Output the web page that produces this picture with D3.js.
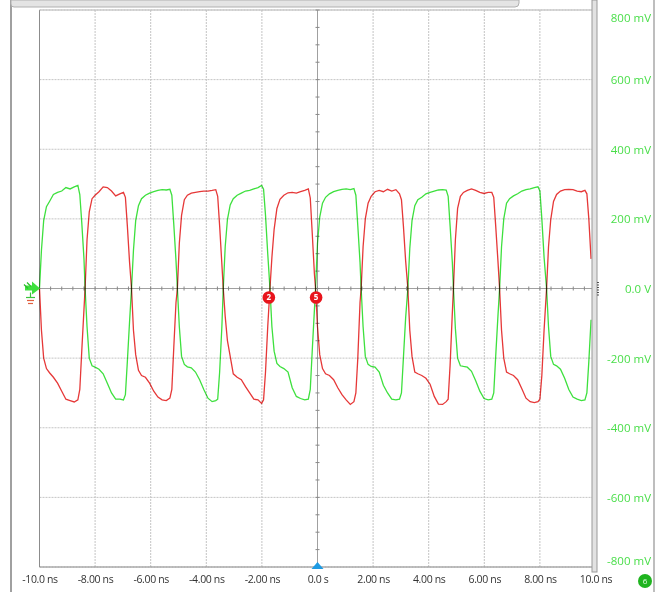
<!DOCTYPE html>
<html><head><meta charset="utf-8">
<script src="https://cdn.jsdelivr.net/npm/d3@7"></script>
<style>body{margin:0;background:#fff} svg{display:block}</style>
</head><body><svg id="c" width="661" height="592"></svg>
<script>
// ---- data ----
const edgeTimes = [-10.0, -8.36, -6.69, -5.04, -3.39, -1.71, -0.07, 1.57, 3.25, 4.89, 6.55, 8.24];
const sampleOffsets = [0, 0.07, 0.15, 0.25, 0.36, 0.5, 0.65, 0.8, 0.95, 1.1, 1.25, 1.38, 1.45, 1.52, 1.6];
const greenSegments = [
  [0, 110, 195, 235, 250, 270, 276, 280, 290, 286, 292, 296, 270, 190, 85],
  [0, -110, -200, -222, -226, -232, -245, -272, -300, -318, -318, -320, -305, -210, -95],
  [0, 110, 195, 238, 258, 268, 274, 278, 282, 284, 283, 285, 268, 185, 80],
  [0, -110, -195, -218, -225, -228, -240, -262, -290, -315, -325, -322, -318, -240, -110],
  [0, 120, 198, 240, 258, 268, 274, 280, 282, 286, 290, 296, 285, 210, 100],
  [0, -110, -180, -215, -224, -230, -240, -285, -310, -316, -320, -318, -290, -180, -60],
  [0, 130, 205, 245, 262, 272, 278, 282, 285, 286, 284, 287, 268, 180, 75],
  [0, -110, -195, -218, -224, -226, -240, -278, -300, -318, -320, -318, -300, -200, -85],
  [0, 115, 195, 238, 255, 262, 272, 276, 280, 283, 284, 283, 265, 180, 75],
  [0, -115, -200, -222, -224, -226, -238, -265, -295, -316, -320, -318, -300, -195, -80],
  [0, 120, 200, 245, 258, 266, 272, 280, 284, 286, 290, 292, 280, 200, 90],
  [0, -110, -195, -218, -222, -232, -258, -290, -312, -318, -322, -320, -300, -210, -90]
];
const redSegments = [
  [0, -120, -200, -230, -242, -255, -272, -295, -318, -322, -326, -320, -290, -180, -60],
  [0, 140, 220, 258, 268, 278, 292, 290, 280, 266, 272, 276, 262, 180, 75],
  [0, -120, -190, -235, -250, -255, -272, -295, -312, -320, -322, -315, -290, -170, -40],
  [0, 130, 210, 255, 268, 274, 276, 278, 280, 280, 282, 284, 265, 180, 70],
  [0, -80, -150, -195, -245, -255, -262, -282, -300, -318, -320, -330, -320, -240, -110],
  [0, 90, 170, 230, 256, 268, 275, 276, 274, 278, 282, 286, 260, 160, 40],
  [0, -110, -190, -230, -245, -250, -262, -285, -305, -320, -333, -325, -300, -200, -40],
  [0, 120, 200, 245, 265, 278, 282, 278, 285, 280, 284, 272, 255, 180, 80],
  [0, -120, -195, -240, -245, -250, -258, -275, -310, -332, -333, -325, -318, -220, -70],
  [0, 140, 230, 265, 276, 282, 286, 282, 276, 273, 276, 276, 262, 180, 80],
  [0, -120, -200, -240, -245, -250, -262, -288, -315, -325, -328, -325, -318, -250, -120],
  [0, 120, 198, 250, 270, 280, 284, 285, 284, 280, 278, 282, 272, 200, 85]
];
const xTicks = [-10, -8, -6, -4, -2, 0, 2, 4, 6, 8, 10];
const xTickLabels = ["-10.0 ns", "-8.00 ns", "-6.00 ns", "-4.00 ns", "-2.00 ns", "0.0 s", "2.00 ns", "4.00 ns", "6.00 ns", "8.00 ns", "10.0 ns"];
const yTicks = [800, 600, 400, 200, 0, -200, -400, -600, -800];
const yTickLabels = ["800 mV", "600 mV", "400 mV", "200 mV", "0.0 V", "-200 mV", "-400 mV", "-600 mV", "-800 mV"];
const markerLabels = ["2", "5"];
const markerTimes = [-1.75, -0.05];
const markerValues = [-26, -26];

// ---- drawing ----
const svg = d3.select("#c");
const x = d3.scaleLinear().domain([-10, 10]).range([39.5, 595.5]);
const y = d3.scaleLinear().domain([-800, 800]).range([567, 10]);
const GREEN = "#3ee03e", RED = "#e63838";

// outer frame
svg.append("rect").attr("x", 0).attr("y", 0).attr("width", 661).attr("height", 592).attr("fill", "#fff");
svg.append("line").attr("x1", 11).attr("x2", 11).attr("y1", 0).attr("y2", 592).attr("stroke", "#a0a0a0").attr("stroke-width", 2);
svg.append("path").attr("d", "M11,0 L11,4 Q11,7 14,7 L515,7 Q519,7 519,3 L519,0 Z").attr("fill", "#e4e4e4").attr("stroke", "#b0b0b0");
svg.append("line").attr("x1", 654).attr("x2", 654).attr("y1", 0).attr("y2", 592).attr("stroke", "#a8a8a8").attr("stroke-width", 1.5);

// grid
const g = svg.append("g");
g.selectAll("line.vx").data(xTicks).join("line").attr("class", "vx")
  .attr("x1", d => x(d)).attr("x2", d => x(d)).attr("y1", y(800)).attr("y2", y(-800))
  .attr("stroke", "#c4c4c4").attr("stroke-dasharray", "2,1");
g.selectAll("line.hy").data(yTicks).join("line").attr("class", "hy")
  .attr("x1", x(-10)).attr("x2", x(10)).attr("y1", d => y(d)).attr("y2", d => y(d))
  .attr("stroke", "#c4c4c4").attr("stroke-dasharray", "2,1");

// plot borders
svg.append("line").attr("x1", x(-10)).attr("x2", x(-10)).attr("y1", y(800)).attr("y2", y(-800)).attr("stroke", "#8c8c8c");
svg.append("line").attr("x1", x(-10)).attr("x2", x(10)).attr("y1", y(-800)).attr("y2", y(-800)).attr("stroke", "#8c8c8c");
svg.append("line").attr("x1", x(-10)).attr("x2", x(10)).attr("y1", y(800)).attr("y2", y(800)).attr("stroke", "#bdbdbd");

// center axes with minor ticks
svg.append("line").attr("x1", x(-10)).attr("x2", x(10)).attr("y1", y(0)).attr("y2", y(0)).attr("stroke", "#a0a0a0");
svg.append("line").attr("x1", x(0)).attr("x2", x(0)).attr("y1", y(800)).attr("y2", y(-800)).attr("stroke", "#a0a0a0");
svg.selectAll("line.mtx").data(d3.range(-10, 10.001, 0.4)).join("line").attr("class", "mtx")
  .attr("x1", d => x(d)).attr("x2", d => x(d)).attr("y1", y(0) - 2).attr("y2", y(0) + 2).attr("stroke", "#888");
svg.selectAll("line.mty").data(d3.range(-800, 800.001, 50)).join("line").attr("class", "mty")
  .attr("x1", x(0) - 2).attr("x2", x(0) + 2).attr("y1", d => y(d)).attr("y2", d => y(d)).attr("stroke", "#888");

// waveforms
function buildSeries(segs) {
  const pts = [];
  segs.forEach((seg, i) => seg.forEach((v, j) => pts.push([edgeTimes[i] + sampleOffsets[j], v])));
  return pts;
}
const line = d3.line().x(d => x(d[0])).y(d => y(d[1]));
svg.append("path").datum(buildSeries(redSegments)).attr("d", line)
  .attr("fill", "none").attr("stroke", RED).attr("stroke-width", 1.3).style("mix-blend-mode", "multiply");
svg.append("path").datum(buildSeries(greenSegments)).attr("d", line)
  .attr("fill", "none").attr("stroke", GREEN).attr("stroke-width", 1.3).style("mix-blend-mode", "multiply");

// right bar
svg.append("rect").attr("x", 592).attr("y", 0).attr("width", 5).attr("height", 572).attr("fill", "#e2e2e2").attr("stroke", "#9a9a9a");
svg.append("line").attr("x1", 598).attr("x2", 598).attr("y1", 282).attr("y2", 296).attr("stroke", "#222").attr("stroke-dasharray", "1,1.5").attr("stroke-width", 1.5);

// x axis labels
const xAxis = d3.axisBottom(x).tickValues(xTicks).tickFormat((d, i) => xTickLabels[i]).tickSize(0).tickPadding(0);
const xa = svg.append("g").attr("transform", "translate(0,576)").call(xAxis);
xa.select(".domain").remove();
xa.selectAll("text").attr("fill", "#333").attr("font-family", "'Open Sans', sans-serif").attr("font-size", "10.5px").attr("letter-spacing", "-0.35px").attr("dy", "0.71em");

// y axis labels (right)
const yAxis = d3.axisRight(y).tickValues(yTicks).tickFormat((d, i) => yTickLabels[i]).tickSize(0).tickPadding(0);
const ya = svg.append("g").attr("transform", "translate(651,0)").call(yAxis);
ya.select(".domain").remove();
ya.selectAll("text").attr("text-anchor", "end").attr("fill", "#49de49")
  .attr("font-family", "'Open Sans', sans-serif").attr("font-size", "11.5px")
  .attr("dy", d => d === 800 ? "1.0em" : d === -800 ? "-0.25em" : "0.35em");

// markers
const mk = svg.selectAll("g.mk").data(markerLabels).join("g").attr("class", "mk")
  .attr("transform", (d, i) => `translate(${x(markerTimes[i])},${y(markerValues[i])})`);
mk.append("circle").attr("r", 6.3).attr("fill", "#e8141c");
mk.append("text").text(d => d).attr("text-anchor", "middle").attr("dy", "0.35em")
  .attr("fill", "#fff").attr("font-family", "'Open Sans', sans-serif").attr("font-size", "8px").attr("font-weight", "bold");

// trigger marker (cyan)
svg.append("path").attr("d", `M${x(0) - 6},569 L${x(0) + 6},569 L${x(0)},562 Z`).attr("fill", "#1e9be3");

// ground / reference marker at left
const gm = svg.append("g").attr("transform", `translate(0,${y(0)})`);
gm.append("path").attr("d", "M25,-3 L32,-3 L32,-7 L40,0 L32,6 L32,2 L25,2 Z").attr("fill", GREEN);
gm.append("path").attr("d", "M27,-6 L31,-2 M24,-4 L28,0").attr("stroke", "#2cbf2c").attr("stroke-width", 1.2);
gm.append("line").attr("x1", 26).attr("x2", 35).attr("y1", 9).attr("y2", 9).attr("stroke", "#3cc43c").attr("stroke-width", 1.2);
gm.append("line").attr("x1", 27).attr("x2", 34).attr("y1", 12).attr("y2", 12).attr("stroke", "#e06040").attr("stroke-width", 1.2);
gm.append("line").attr("x1", 28).attr("x2", 33).attr("y1", 15).attr("y2", 15).attr("stroke", "#e06040").attr("stroke-width", 1.2);
gm.append("line").attr("x1", 30.5).attr("x2", 30.5).attr("y1", 4).attr("y2", 9).attr("stroke", "#3cc43c").attr("stroke-width", 1.2);

// channel badge bottom right
const cb = svg.append("g").attr("transform", "translate(645,581)");
cb.append("circle").attr("r", 7).attr("fill", "#1fb41f");
cb.append("text").text("6").attr("text-anchor", "middle").attr("dy", "0.35em").attr("fill", "#e8ffe8")
  .attr("font-family", "'Open Sans', sans-serif").attr("font-size", "8px");
</script></body></html>
